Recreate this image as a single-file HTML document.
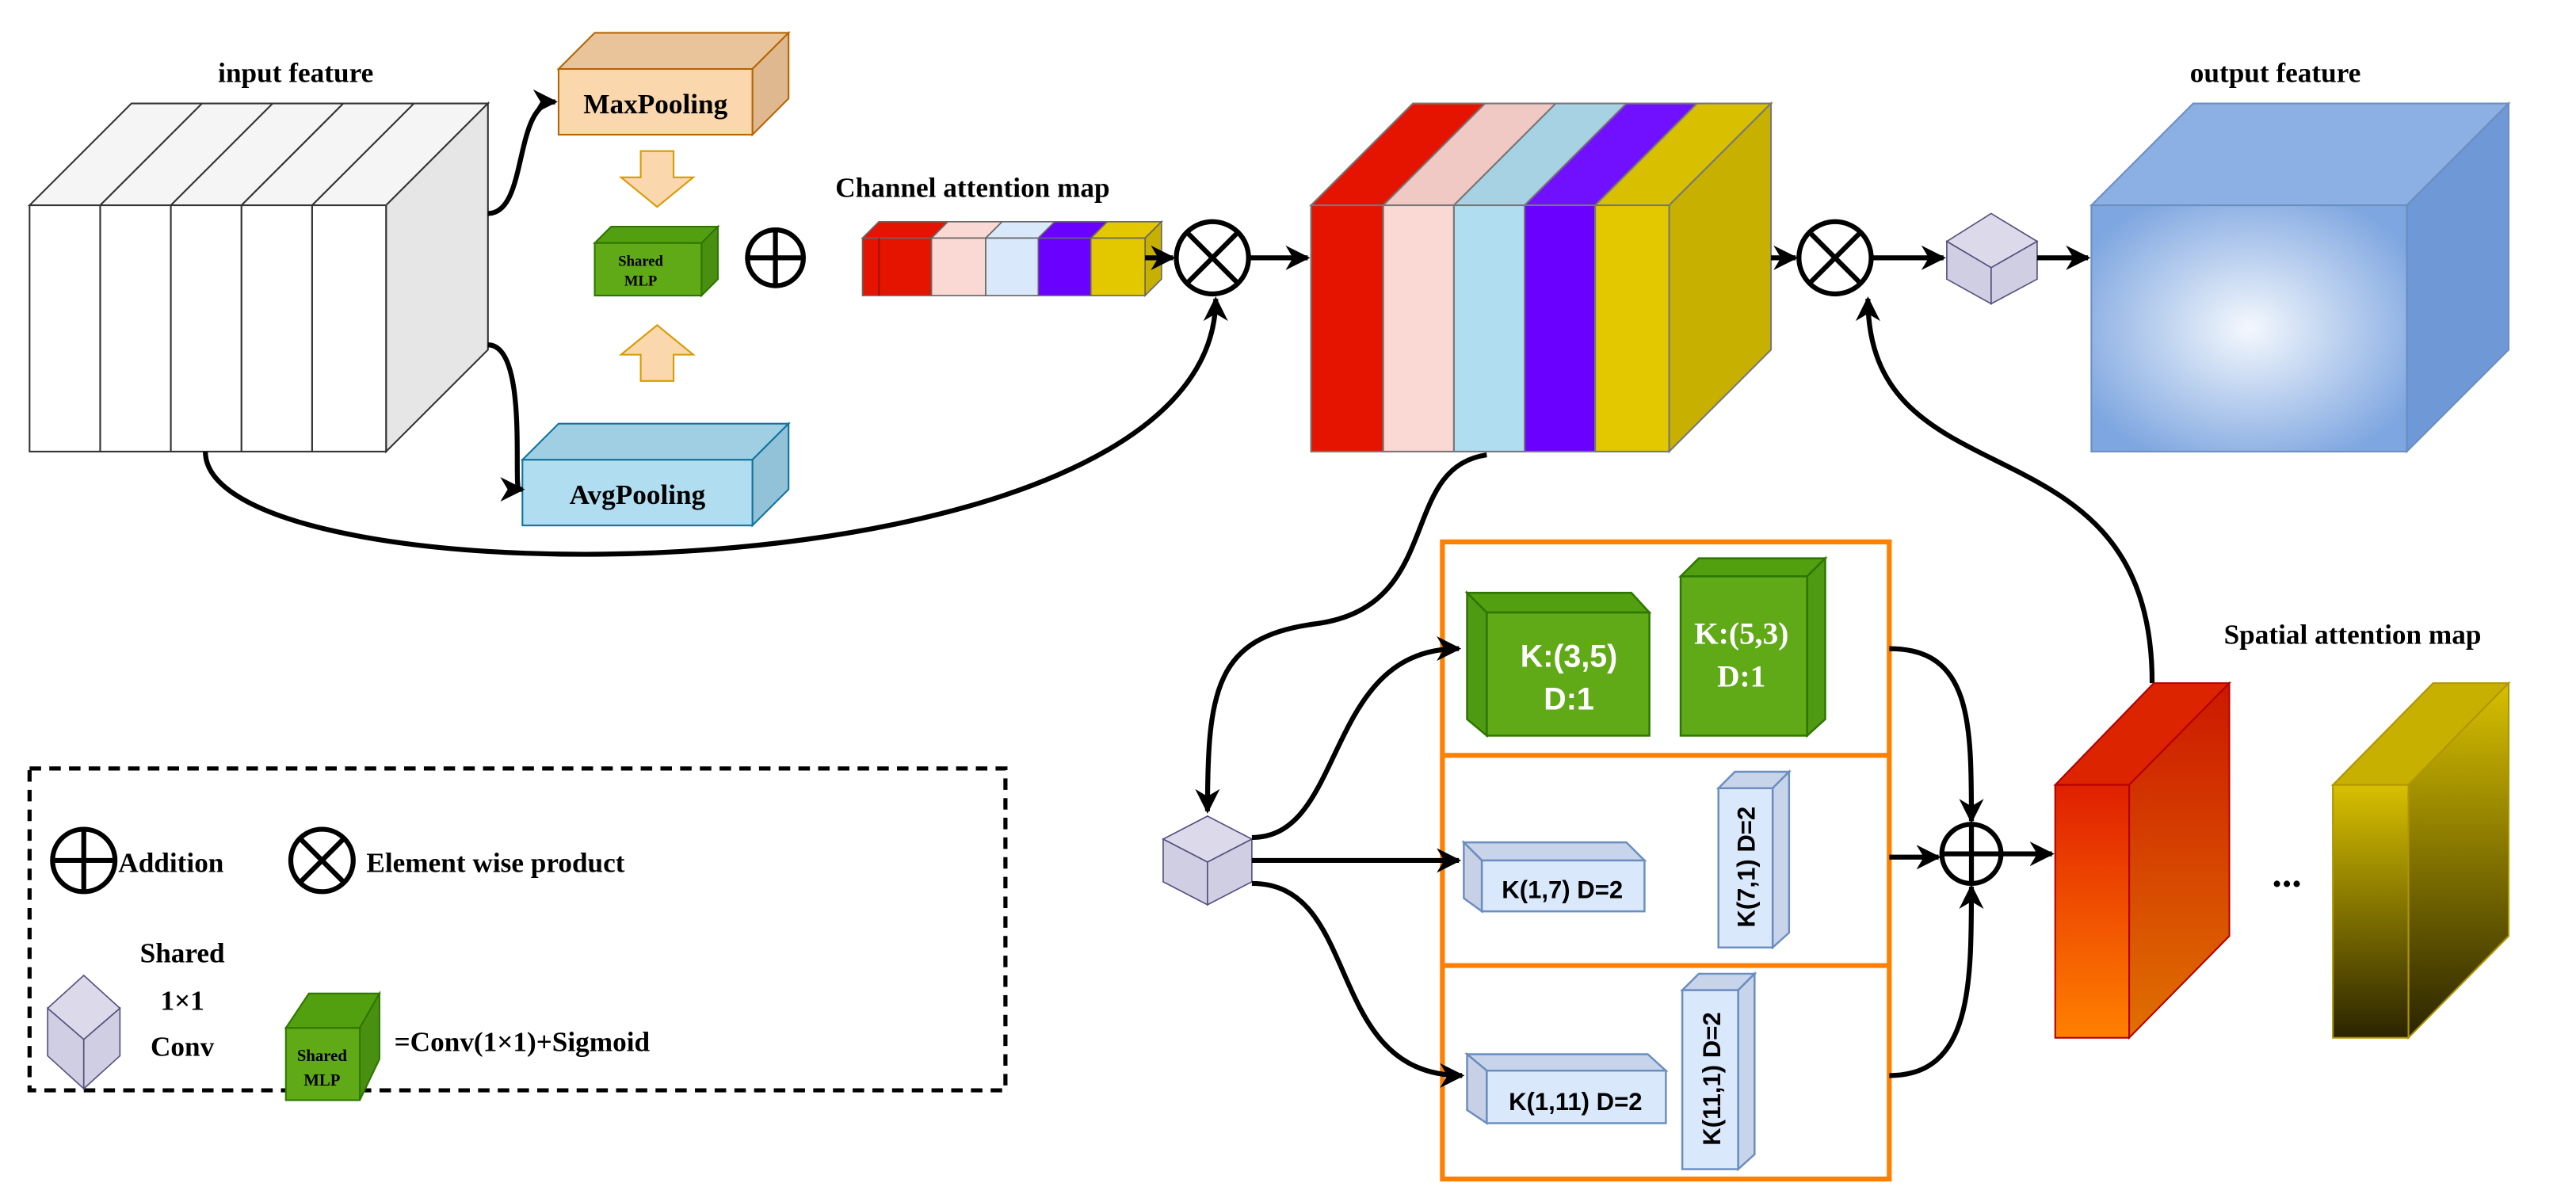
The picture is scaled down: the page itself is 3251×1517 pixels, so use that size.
<!DOCTYPE html>
<html><head><meta charset="utf-8"><style>
html,body{margin:0;padding:0;background:#fff;}
svg{display:block;}
.s{font-family:"Liberation Serif",serif;font-weight:bold;}
.a{font-family:"Liberation Sans",sans-serif;font-weight:bold;}
</style></head><body>
<svg width="3251" height="1517" viewBox="0 0 1568 732" preserveAspectRatio="none" xmlns="http://www.w3.org/2000/svg">
<defs>
<marker id="ar" viewBox="0 0 10 10" refX="9" refY="5" markerWidth="5" markerHeight="5" orient="auto"><path d="M0,0 L10,5 L0,10 L3,5 z" fill="#000"/></marker>
<radialGradient id="blu" cx="0.5" cy="0.5" r="0.6"><stop offset="0" stop-color="#f4f8fd"/><stop offset="1" stop-color="#7ea6e0"/></radialGradient>
<linearGradient id="org" x1="0" y1="0" x2="0" y2="1"><stop offset="0" stop-color="#e02000"/><stop offset="1" stop-color="#ff8000"/></linearGradient>
<linearGradient id="orgR" x1="0" y1="0" x2="0" y2="1"><stop offset="0" stop-color="#cc1800"/><stop offset="1" stop-color="#e07000"/></linearGradient>
<linearGradient id="yel" x1="0" y1="0" x2="0" y2="1"><stop offset="0" stop-color="#d8c000"/><stop offset="1" stop-color="#2a2400"/></linearGradient>
</defs>
<style>.l{fill:none;stroke:#000;stroke-width:3;}</style>

<!-- input feature -->
<text x="180" y="50" class="s" font-size="17" text-anchor="middle">input feature</text>
<g stroke="#333" stroke-width="1">
<polygon points="18,125 80,63 123,63 61,125" fill="#f5f5f5"/>
<polygon points="61,125 123,63 166,63 104,125" fill="#f5f5f5"/>
<polygon points="104,125 166,63 209,63 147,125" fill="#f5f5f5"/>
<polygon points="147,125 209,63 252,63 190,125" fill="#f5f5f5"/>
<polygon points="190,125 252,63 297,63 235,125" fill="#f5f5f5"/>
<polygon points="235,125 297,63 297,213 235,275" fill="#e6e6e6"/>
<rect x="18" y="125" width="43" height="150" fill="#fff"/>
<rect x="61" y="125" width="43" height="150" fill="#fff"/>
<rect x="104" y="125" width="43" height="150" fill="#fff"/>
<rect x="147" y="125" width="43" height="150" fill="#fff"/>
<rect x="190" y="125" width="45" height="150" fill="#fff"/>
</g>

<!-- MaxPooling -->
<g stroke="#b46504" stroke-width="1">
<polygon points="340,42 362,20 480,20 458,42" fill="#e9c49a"/>
<polygon points="458,42 480,20 480,60 458,82" fill="#e0b890"/>
<rect x="340" y="42" width="118" height="40" fill="#fad7ac"/>
</g>
<text x="399" y="69" class="s" font-size="17" text-anchor="middle">MaxPooling</text>
<!-- AvgPooling -->
<g stroke="#10739e" stroke-width="1">
<polygon points="318,280 340,258 480,258 458,280" fill="#a0cfe4"/>
<polygon points="458,280 480,258 480,298 458,320" fill="#92c2d8"/>
<rect x="318" y="280" width="140" height="40" fill="#b1ddf0"/>
</g>
<text x="388" y="307" class="s" font-size="17" text-anchor="middle">AvgPooling</text>
<!-- orange arrows -->
<polygon points="390,92 410,92 410,108 422,108 400,126 378,108 390,108" fill="#fad7ac" stroke="#d79b00"/>
<polygon points="390,232 410,232 410,216 422,216 400,198 378,216 390,216" fill="#fad7ac" stroke="#d79b00"/>
<!-- Shared MLP -->
<g stroke="#2d7600" stroke-width="1">
<polygon points="362,148 372,138 437,138 427,148" fill="#52a00f"/>
<polygon points="427,148 437,138 437,170 427,180" fill="#4a9010"/>
<rect x="362" y="148" width="65" height="32" fill="#60a917"/>
</g>
<text x="390" y="162" class="s" font-size="9" text-anchor="middle">Shared</text>
<text x="390" y="174" class="s" font-size="9" text-anchor="middle">MLP</text>
<!-- plus -->
<circle cx="472" cy="157" r="17" class="l"/><line x1="455" y1="157" x2="489" y2="157" class="l"/><line x1="472" y1="140" x2="472" y2="174" class="l"/>

<!-- channel attention map -->
<text x="592" y="120" class="s" font-size="17" text-anchor="middle">Channel attention map</text>
<g stroke="#666" stroke-width="0.8">
<polygon points="525,145 535,135 707,135 697,145" fill="#ddd"/>
<polygon points="525,145 535,135 577,135 567,145" fill="#e51400"/>
<polygon points="567,145 577,135 610,135 600,145" fill="#fad9d5"/>
<polygon points="600,145 610,135 642,135 632,145" fill="#dae8fc"/>
<polygon points="632,145 642,135 674,135 664,145" fill="#6a00ff"/>
<polygon points="664,145 674,135 707,135 697,145" fill="#e3c800"/>
<polygon points="697,145 707,135 707,170 697,180" fill="#c8b000"/>
<rect x="525" y="145" width="42" height="35" fill="#e51400"/>
<rect x="567" y="145" width="33" height="35" fill="#fad9d5"/>
<rect x="600" y="145" width="32" height="35" fill="#dae8fc"/>
<rect x="632" y="145" width="32" height="35" fill="#6a00ff"/>
<rect x="664" y="145" width="33" height="35" fill="#e3c800"/>
</g>
<line x1="535" y1="145" x2="535" y2="180" stroke="#a01000"/>
<!-- otimes 1 -->
<circle cx="738" cy="157" r="22" class="l"/><line x1="722" y1="141" x2="754" y2="173" class="l"/><line x1="754" y1="141" x2="722" y2="173" class="l"/>

<!-- big colored cube -->
<g stroke="#777" stroke-width="1">
<polygon points="798,125 860,63 904,63 842,125" fill="#e51400"/>
<polygon points="842,125 904,63 947,63 885,125" fill="#f0c8c4"/>
<polygon points="885,125 947,63 990,63 928,125" fill="#a6d2e4"/>
<polygon points="928,125 990,63 1033,63 971,125" fill="#7010ff"/>
<polygon points="971,125 1033,63 1078,63 1016,125" fill="#d8c000"/>
<polygon points="1016,125 1078,63 1078,213 1016,275" fill="#c8b000"/>
<rect x="798" y="125" width="44" height="150" fill="#e51400"/>
<rect x="842" y="125" width="43" height="150" fill="#fad9d5"/>
<rect x="885" y="125" width="43" height="150" fill="#b1ddf0"/>
<rect x="928" y="125" width="43" height="150" fill="#6a00ff"/>
<rect x="971" y="125" width="45" height="150" fill="#e3c800"/>
</g>

<!-- otimes 2 -->
<circle cx="1117" cy="157" r="22" class="l"/><line x1="1101" y1="141" x2="1133" y2="173" class="l"/><line x1="1133" y1="141" x2="1101" y2="173" class="l"/>
<!-- small cube top -->
<g stroke="#56517e" stroke-width="0.8">
<polygon points="1185,147 1212,130 1240,147 1212,163" fill="#dcdaea"/>
<polygon points="1185,147 1212,163 1212,185 1185,170" fill="#d0cee2"/>
<polygon points="1240,147 1212,163 1212,185 1240,170" fill="#d0cee2"/>
</g>

<!-- output feature -->
<text x="1385" y="50" class="s" font-size="17" text-anchor="middle">output feature</text>
<g stroke="#6c8ebf" stroke-width="1">
<polygon points="1273,125 1335,63 1527,63 1465,125" fill="#8cb0e4"/>
<polygon points="1465,125 1527,63 1527,213 1465,275" fill="#6e98d6"/>
<rect x="1273" y="125" width="192" height="150" fill="url(#blu)"/>
</g>

<!-- connectors top -->
<path d="M297,130 C322,130 312,62 338,62" class="l" marker-end="url(#ar)"/>
<path d="M297,210 C322,210 312,298 316,298 L318,298" class="l" marker-end="url(#ar)"/>
<path d="M125,275 C125,370 740,370 740,182" class="l" marker-end="url(#ar)"/>
<line x1="697" y1="157" x2="714" y2="157" class="l" marker-end="url(#ar)"/>
<line x1="760" y1="157" x2="796" y2="157" class="l" marker-end="url(#ar)"/>
<line x1="1078" y1="157" x2="1093" y2="157" class="l" marker-end="url(#ar)"/>
<line x1="1139" y1="157" x2="1183" y2="157" class="l" marker-end="url(#ar)"/>
<line x1="1240" y1="157" x2="1271" y2="157" class="l" marker-end="url(#ar)"/>
<path d="M1310,416 C1310,250 1137,310 1137,182" class="l" marker-end="url(#ar)"/>
<path d="M905,277 C850,285 880,370 800,380 C740,388 735,420 735,494" class="l" marker-end="url(#ar)"/>

<!-- orange box -->
<rect x="878" y="330" width="272" height="388" fill="none" stroke="#ff8000" stroke-width="3"/>
<line x1="878" y1="460" x2="1150" y2="460" stroke="#ff8000" stroke-width="3"/>
<line x1="878" y1="588" x2="1150" y2="588" stroke="#ff8000" stroke-width="3"/>

<!-- green boxes -->
<g stroke="#2d7600" stroke-width="1.2">
<polygon points="893,361 993,361 1004,373 905,373" fill="#52a00f"/>
<polygon points="893,361 905,373 905,448 893,438" fill="#4e9a12"/>
<rect x="905" y="373" width="99" height="75" fill="#60a917"/>
<polygon points="1023,351 1034,340 1111,340 1100,351" fill="#52a00f"/>
<polygon points="1100,351 1111,340 1111,438 1100,448" fill="#4e9a12"/>
<rect x="1023" y="351" width="77" height="97" fill="#60a917"/>
</g>
<text x="955" y="406" class="a" font-size="19" fill="#fff" text-anchor="middle">K:(3,5)</text>
<text x="955" y="432" class="a" font-size="19" fill="#fff" text-anchor="middle">D:1</text>
<text x="1060" y="392" class="s" font-size="19" fill="#fff" text-anchor="middle">K:(5,3)</text>
<text x="1060" y="418" class="s" font-size="19" fill="#fff" text-anchor="middle">D:1</text>

<!-- blue boxes -->
<g stroke="#6c8ebf" stroke-width="1.2">
<polygon points="891,513 990,513 1001,524 902,524" fill="#c7d4ea"/>
<polygon points="891,513 902,524 902,555 891,547" fill="#c7d0e4"/>
<rect x="902" y="524" width="99" height="31" fill="#dae8fc"/>
<polygon points="1046,480 1056,470 1089,470 1079,480" fill="#c7d4ea"/>
<polygon points="1079,480 1089,470 1089,568 1079,577" fill="#c7d4ea"/>
<rect x="1046" y="480" width="33" height="97" fill="#dae8fc"/>
<polygon points="893,642 1003,642 1014,652 905,652" fill="#c7d4ea"/>
<polygon points="893,642 905,652 905,684 893,676" fill="#c7d0e4"/>
<rect x="905" y="652" width="109" height="32" fill="#dae8fc"/>
<polygon points="1024,603 1034,593 1068,593 1058,603" fill="#c7d4ea"/>
<polygon points="1058,603 1068,593 1068,703 1058,712" fill="#c7d4ea"/>
<rect x="1024" y="603" width="34" height="109" fill="#dae8fc"/>
</g>
<text x="951" y="547" class="a" font-size="15" text-anchor="middle">K(1,7) D=2</text>
<text x="959" y="676" class="a" font-size="15" text-anchor="middle">K(1,11) D=2</text>
<text transform="translate(1068,528) rotate(-90)" class="a" font-size="15" text-anchor="middle">K(7,1) D=2</text>
<text transform="translate(1047,657) rotate(-90)" class="a" font-size="15" text-anchor="middle">K(11,1) D=2</text>

<!-- small cube middle -->
<g stroke="#56517e" stroke-width="0.8">
<polygon points="708,511 735,497 762,511 735,525" fill="#dcdaea"/>
<polygon points="708,511 735,525 735,551 708,537" fill="#d0cee2"/>
<polygon points="762,511 735,525 735,551 762,537" fill="#d0cee2"/>
</g>
<path d="M762,510 C820,510 805,395 888,395" class="l" marker-end="url(#ar)"/>
<line x1="762" y1="524" x2="888" y2="524" class="l" marker-end="url(#ar)"/>
<path d="M762,538 C830,538 805,655 890,655" class="l" marker-end="url(#ar)"/>
<path d="M1150,395 C1200,395 1200,440 1200,500" class="l" marker-end="url(#ar)"/>
<line x1="1150" y1="522" x2="1180" y2="522" class="l" marker-end="url(#ar)"/>
<path d="M1150,655 C1200,655 1200,600 1200,540" class="l" marker-end="url(#ar)"/>
<circle cx="1200" cy="520" r="18" class="l"/><line x1="1182" y1="520" x2="1218" y2="520" class="l"/><line x1="1200" y1="502" x2="1200" y2="538" class="l"/>
<line x1="1218" y1="520" x2="1249" y2="520" class="l" marker-end="url(#ar)"/>

<!-- spatial attention -->
<text x="1432" y="392" class="s" font-size="17" text-anchor="middle">Spatial attention map</text>
<g stroke="#b20000" stroke-width="1">
<polygon points="1251,478 1311,416 1357,416 1296,478" fill="#dc2400"/>
<polygon points="1296,478 1357,416 1357,570 1296,632" fill="url(#orgR)"/>
<rect x="1251" y="478" width="45" height="154" fill="url(#org)"/>
</g>
<g stroke="#b09500" stroke-width="1">
<polygon points="1420,478 1481,416 1527,416 1466,478" fill="#c8b000"/>
<polygon points="1466,478 1527,416 1527,570 1466,632" fill="url(#yel)"/>
<rect x="1420" y="478" width="46" height="154" fill="url(#yel)"/>
</g>
<text x="1392" y="540" class="s" font-size="24" text-anchor="middle">...</text>

<!-- legend -->
<rect x="18" y="468" width="594" height="196" fill="none" stroke="#000" stroke-width="2.5" stroke-dasharray="7,5"/>
<circle cx="51" cy="524" r="19" class="l"/><line x1="32" y1="524" x2="70" y2="524" class="l"/><line x1="51" y1="505" x2="51" y2="543" class="l"/>
<text x="72" y="531" class="s" font-size="17">Addition</text>
<circle cx="196" cy="524" r="19" class="l"/><line x1="183" y1="511" x2="209" y2="537" class="l"/><line x1="209" y1="511" x2="183" y2="537" class="l"/>
<text x="223" y="531" class="s" font-size="17">Element wise product</text>
<g stroke="#56517e" stroke-width="0.8">
<polygon points="29,614 51,594 73,614 51,633" fill="#dcdaea"/>
<polygon points="29,614 51,633 51,663 29,643" fill="#d0cee2"/>
<polygon points="73,614 51,633 51,663 73,643" fill="#d0cee2"/>
</g>
<text x="111" y="586" class="s" font-size="17" text-anchor="middle">Shared</text>
<text x="111" y="615" class="s" font-size="17" text-anchor="middle">1×1</text>
<text x="111" y="643" class="s" font-size="17" text-anchor="middle">Conv</text>
<g stroke="#2d7600" stroke-width="1">
<polygon points="174,626 188,605 231,605 219,626" fill="#52a00f"/>
<polygon points="219,626 231,605 231,645 219,670" fill="#4a9010"/>
<rect x="174" y="626" width="45" height="44" fill="#60a917"/>
</g>
<text x="196" y="646" class="s" font-size="10" text-anchor="middle">Shared</text>
<text x="196" y="661" class="s" font-size="10" text-anchor="middle">MLP</text>
<text x="240" y="640" class="s" font-size="17">=Conv(1×1)+Sigmoid</text>
</svg>
</body></html>
